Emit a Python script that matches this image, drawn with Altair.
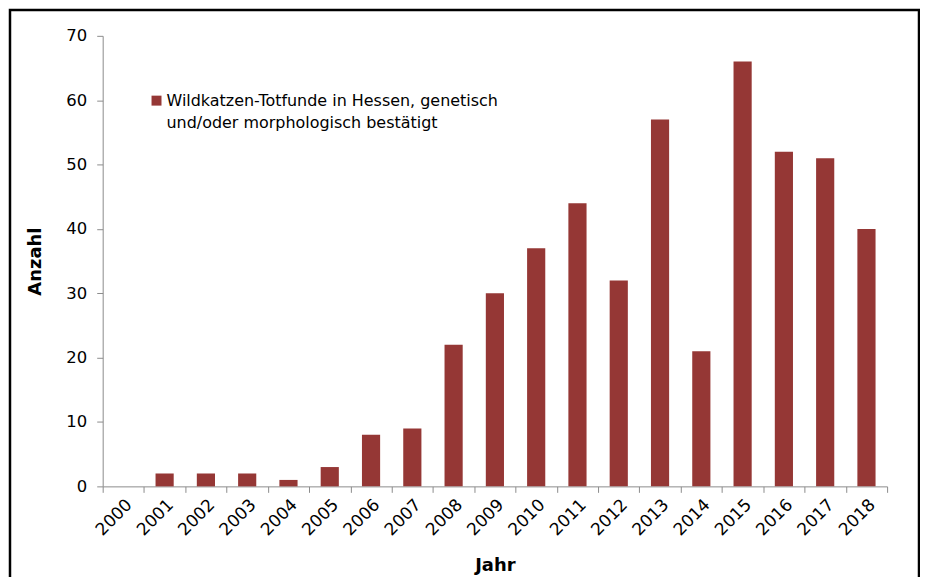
import altair as alt
import pandas as pd

years = [str(y) for y in range(2000, 2019)]
counts = [0, 2, 2, 2, 1, 3, 8, 9, 22, 30, 37, 44, 32, 57, 21, 66, 52, 51, 40]
series_lines = ["Wildkatzen-Totfunde in Hessen, genetisch", "und/oder morphologisch bestätigt"]

df = pd.DataFrame({"Jahr": years, "Anzahl": counts})

W, H = 787, 452
FONT = "DejaVu Sans"
BAR = "#953735"
AX = "#8c8c8c"

bars = alt.Chart(df).mark_bar(color=BAR, width={"band": 0.44}).encode(
    x=alt.X("Jahr:O", title="Jahr",
            scale=alt.Scale(paddingInner=0, paddingOuter=0),
            axis=alt.Axis(labelAngle=-45, tickBand="extent", labelFontSize=17,
                          labelFont=FONT, labelColor="black", labelPadding=4,
                          tickSize=6, tickColor=AX, domainColor=AX,
                          titleFont=FONT, titleFontSize=18, titleFontWeight="bold",
                          titleColor="black", titleY=70, titleBaseline="top")),
    y=alt.Y("Anzahl:Q", title="Anzahl",
            scale=alt.Scale(domain=[0, 70], nice=False),
            axis=alt.Axis(values=list(range(0, 71, 10)), grid=False, labelFontSize=16.5,
                          labelFont=FONT, labelColor="black", labelPadding=10,
                          tickSize=6, tickColor=AX, domainColor=AX,
                          titleFont=FONT, titleFontSize=18, titleFontWeight="bold",
                          titleColor="black", titleX=-58, titlePadding=12)),
)

one = alt.Data(values=[{}])
legend_sym = alt.Chart(one).mark_square(color=BAR, size=100, opacity=1).encode(
    x=alt.value(54), y=alt.value(65))
legend_txt = alt.Chart(one).mark_text(align="left", baseline="middle", font=FONT,
                                      fontSize=16, lineHeight=22, color="black").encode(
    x=alt.value(64), y=alt.value(65), text=alt.value(series_lines))
frame = alt.Chart(one).mark_rect(fill=None, stroke="black", strokeWidth=2.5).encode(
    x=alt.value(-93), x2=alt.value(819), y=alt.value(-26), y2=alt.value(620))

chart = alt.layer(bars, legend_sym, legend_txt, frame).properties(
    width=W, height=H,
    autosize=alt.AutoSizeParams(type="none"),
    padding={"left": 95, "top": 27, "right": 33, "bottom": 90},
).configure_view(stroke=None)

chart.save("out.html", embed_options={"renderer": "svg", "actions": False})
